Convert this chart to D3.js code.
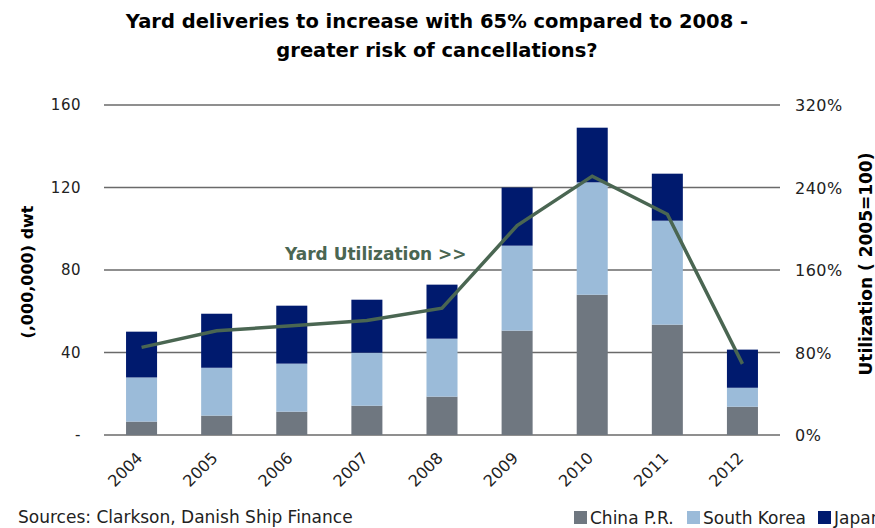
<!DOCTYPE html>
<html>
<head>
<meta charset="utf-8">
<script src="https://cdn.jsdelivr.net/npm/d3@7"></script>
<style>
  body { margin: 0; background: #fff; }
  svg { display: block; font-family: 'DejaVu Sans', Verdana, sans-serif; }
</style>
</head>
<body>
<svg id="chart" width="875" height="528"></svg>
<script>
const years = ['2004', '2005', '2006', '2007', '2008', '2009', '2010', '2011', '2012']
const china = [6.5, 9.4, 11.3, 14.2, 18.6, 50.6, 68.0, 53.5, 13.7]
const southKorea = [21.4, 23.2, 23.3, 25.7, 28.1, 41.2, 54.5, 50.4, 9.2]
const japan = [22.2, 26.2, 28.1, 25.7, 26.2, 28.2, 26.5, 22.8, 18.5]
const utilization = [85, 101, 106, 111, 123, 203, 251, 214, 69]
const leftTicks = [0, 40, 80, 120, 160]
const rightTicks = [0, 80, 160, 240, 320]
const seriesNames = ['China P.R.', 'South Korea', 'Japan']
const seriesColors = ['#6f7780', '#9bbbd9', '#001a6e']

const svg = d3.select('#chart')
const margin = { top: 105, right: 95, bottom: 93, left: 104 }
const width = 875, height = 528
const chartW = width - margin.left - margin.right
const chartH = height - margin.top - margin.bottom

const x = d3.scaleBand().domain(years).range([0, chartW]).paddingInner(0.587).paddingOuter(0.2935)
const y = d3.scaleLinear().domain([0, 160]).range([chartH, 0])
const y2 = d3.scaleLinear().domain([0, 320]).range([chartH, 0])

// title
svg.append('text')
  .attr('x', 437).attr('y', 28)
  .attr('text-anchor', 'middle')
  .attr('font-size', 19.5).attr('font-weight', 'bold')
  .selectAll('tspan')
  .data(['Yard deliveries to increase with 65% compared to 2008 -', 'greater risk of cancellations?'])
  .join('tspan')
  .attr('x', 437)
  .attr('dy', (d, i) => i ? 29 : 0)
  .text(d => d)

const g = svg.append('g').attr('transform', `translate(${margin.left},${margin.top})`)

// gridlines
g.append('g').selectAll('line')
  .data(leftTicks)
  .join('line')
  .attr('x1', 0).attr('x2', chartW)
  .attr('y1', d => y(d)).attr('y2', d => y(d))
  .attr('stroke', '#6a6a6a').attr('stroke-width', 1.5)

// left tick labels
g.append('g').selectAll('text')
  .data(leftTicks)
  .join('text')
  .attr('x', -23).attr('y', d => y(d) + 5)
  .attr('text-anchor', 'end')
  .attr('font-size', 15).attr('letter-spacing', 0.5).attr('fill', '#222')
  .text(d => d === 0 ? '-' : d)

// right tick labels
g.append('g').selectAll('text')
  .data(rightTicks)
  .join('text')
  .attr('x', chartW + 15).attr('y', d => y2(d) + 6)
  .attr('font-size', 16).attr('letter-spacing', 0.5).attr('fill', '#222')
  .text(d => d + '%')

// stacked bars
const table = years.map((yr, i) => ({ year: yr, 'China P.R.': china[i], 'South Korea': southKorea[i], 'Japan': japan[i] }))
const stacked = d3.stack().keys(seriesNames)(table)

g.append('g').selectAll('g')
  .data(stacked)
  .join('g')
  .attr('fill', (d, i) => seriesColors[i])
  .selectAll('rect')
  .data(d => d)
  .join('rect')
  .attr('x', d => x(d.data.year))
  .attr('width', x.bandwidth())
  .attr('y', d => y(d[1]))
  .attr('height', d => y(d[0]) - y(d[1]))

// utilization line
const line = d3.line()
  .x((d, i) => x(years[i]) + x.bandwidth() / 2)
  .y(d => y2(d))

g.append('path')
  .datum(utilization)
  .attr('d', line)
  .attr('fill', 'none')
  .attr('stroke', '#4a6652')
  .attr('stroke-width', 3.5)

g.append('text')
  .attr('x', 181).attr('y', 155)
  .attr('font-size', 17).attr('font-weight', 'bold')
  .attr('fill', '#4a6652')
  .text('Yard Utilization >>')

// x labels
g.append('g').selectAll('text')
  .data(years)
  .join('text')
  .attr('transform', d => `translate(${x(d) + x.bandwidth() / 2 + 2},${chartH + 24}) rotate(-45)`)
  .attr('text-anchor', 'end')
  .attr('font-size', 16).attr('fill', '#222')
  .text(d => d)

// axis titles
svg.append('text')
  .attr('transform', 'translate(33,272) rotate(-90)')
  .attr('text-anchor', 'middle')
  .attr('font-size', 16).attr('font-weight', 'bold')
  .text('(,000,000) dwt')

svg.append('text')
  .attr('transform', 'translate(872,264) rotate(-90)')
  .attr('text-anchor', 'middle')
  .attr('font-size', 17).attr('font-weight', 'bold')
  .text('Utilization ( 2005=100)')

// source
svg.append('text')
  .attr('x', 18).attr('y', 523)
  .attr('font-size', 17).attr('fill', '#222')
  .text('Sources: Clarkson, Danish Ship Finance')

// legend
const legendX = [574, 687, 818]
const legend = svg.append('g').selectAll('g')
  .data(seriesNames)
  .join('g')
  .attr('transform', (d, i) => `translate(${legendX[i]},511)`)

legend.append('rect')
  .attr('width', 13).attr('height', 13)
  .attr('fill', (d, i) => seriesColors[i])

legend.append('text')
  .attr('x', 16).attr('y', 12.5)
  .attr('font-size', 17).attr('fill', '#222')
  .text(d => d)
</script>
</body>
</html>
